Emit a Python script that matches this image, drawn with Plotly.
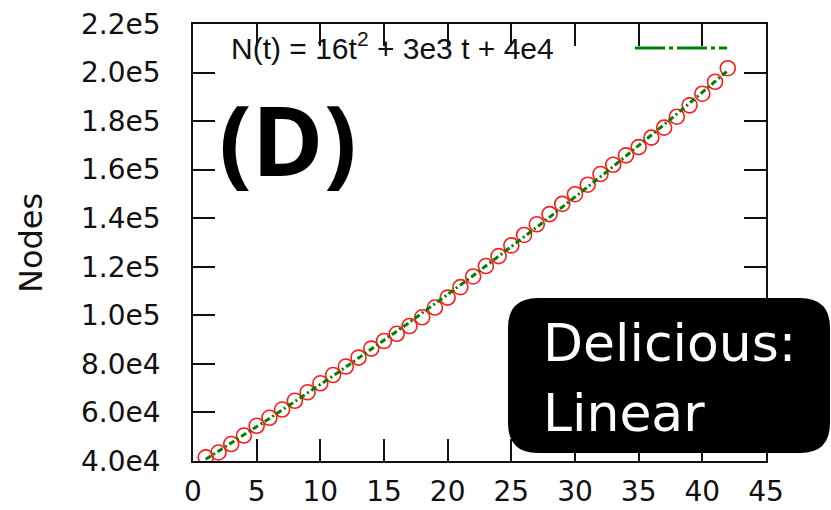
import numpy as np
import plotly.graph_objects as go

# Snapshot index and node counts for the Delicious network
t = list(range(1, 43))
nodes = [41500, 43500, 47000, 50500, 54500, 57800, 61200, 64800, 68300, 72000,
         75400, 78900, 82600, 86300, 89400, 92400, 95600, 99200, 103200, 107300,
         111600, 116000, 120300, 124400, 128800, 133100, 137500, 141700, 145900, 149900,
         153800, 158200, 162000, 165900, 169300, 173200, 177300, 181800, 186500, 191300,
         196200, 201800]

x_ticks = [0, 5, 10, 15, 20, 25, 30, 35, 40, 45]
y_ticks = [40000, 60000, 80000, 100000, 120000, 140000, 160000, 180000, 200000, 220000]
y_tick_text = ["4.0e4", "6.0e4", "8.0e4", "1.0e5", "1.2e5", "1.4e5", "1.6e5", "1.8e5", "2.0e5", "2.2e5"]

fit_label = "N(t) = 16t<sup>2</sup> + 3e3 t + 4e4"
panel_label = "<b>(D)</b>"
box_lines = ["Delicious:", "Linear"]

# quadratic least-squares fit through the measured counts
coef = np.polyfit(t, nodes, 2)
t_fit = np.linspace(t[0], t[-1], 120)
n_fit = np.polyval(coef, t_fit)

W, H = 831, 510
L, R, T, B = 193, 766, 24, 461


def px(x):
    return (x - L) / (R - L)


def py(y):
    return (B - y) / (B - T)


fig = go.Figure()
fig.add_trace(go.Scatter(
    x=t, y=nodes, mode="markers",
    marker=dict(symbol="circle-open", size=15, color="#ff1a1a", line=dict(width=1.6, color="#ff1a1a")),
))
fig.add_trace(go.Scatter(
    x=t_fit, y=n_fit, mode="lines",
    line=dict(color="#008000", width=3, dash="6px,3px,2px,3px"),
))

axis_font = dict(family="DejaVu Sans", size=28, color="#111111")
fig.update_xaxes(
    range=[0, 45], tickvals=x_ticks, ticks="inside", ticklen=22, tickwidth=1.8,
    tickcolor="#111111", showline=True, linecolor="#111111", linewidth=1.8,
    mirror="ticks", showgrid=False, zeroline=False, tickfont=axis_font,
    ticklabelstandoff=4, automargin=False,
)
fig.update_yaxes(
    range=[40000, 220000], tickvals=y_ticks, ticktext=y_tick_text, ticks="inside",
    ticklen=22, tickwidth=1.8, tickcolor="#111111", showline=True,
    linecolor="#111111", linewidth=1.8, mirror="ticks", showgrid=False,
    zeroline=False, tickfont=axis_font, ticklabelstandoff=25, automargin=False,
)

annotations = [
    dict(text="Nodes", textangle=-90, x=px(31), y=py(243), xref="paper", yref="paper",
         showarrow=False, xanchor="center", yanchor="middle",
         font=dict(family="DejaVu Sans", size=32, color="#111111")),
    dict(text=fit_label, x=px(556), y=py(46), xref="paper", yref="paper",
         showarrow=False, xanchor="right", yanchor="middle",
         font=dict(family="Liberation Sans", size=30, color="#111111")),
    dict(text=panel_label, x=px(288), y=py(138), xref="paper", yref="paper",
         showarrow=False, xanchor="center", yanchor="middle",
         font=dict(family="Open Sans", size=97, color="#000000")),
    dict(text=box_lines[0], x=px(541), y=py(343), xref="paper", yref="paper",
         showarrow=False, xanchor="left", yanchor="middle",
         font=dict(family="DejaVu Sans", size=52, color="#ffffff")),
    dict(text=box_lines[1], x=px(541), y=py(413), xref="paper", yref="paper",
         showarrow=False, xanchor="left", yanchor="middle",
         font=dict(family="DejaVu Sans", size=52, color="#ffffff")),
]


def rounded_box(x0, y0, x1, y1, r):
    pts = [
        ("M", px(x0 + r), py(y0)), ("L", px(x1 - r), py(y0)),
        ("Q", px(x1), py(y0), px(x1), py(y0 + r)), ("L", px(x1), py(y1 - r)),
        ("Q", px(x1), py(y1), px(x1 - r), py(y1)), ("L", px(x0 + r), py(y1)),
        ("Q", px(x0), py(y1), px(x0), py(y1 - r)), ("L", px(x0), py(y0 + r)),
        ("Q", px(x0), py(y0), px(x0 + r), py(y0)),
    ]
    parts = []
    for p in pts:
        cmd, vals = p[0], p[1:]
        coords = " ".join(f"{vals[i]:.5f},{vals[i + 1]:.5f}" for i in range(0, len(vals), 2))
        parts.append(f"{cmd} {coords}")
    return " ".join(parts) + " Z"


shapes = [
    # key sample for the fit line
    dict(type="line", xref="paper", yref="paper", x0=px(635), x1=px(727), y0=py(48), y1=py(48),
         line=dict(color="#008000", width=3, dash="30px,4px,4px,4px")),
    dict(type="path", xref="paper", yref="paper", path=rounded_box(508, 298, 830, 453, 30),
         fillcolor="#000000", line=dict(width=0), layer="above"),
]

fig.update_layout(
    width=W, height=H, margin=dict(l=L, r=W - R, t=T, b=H - B),
    plot_bgcolor="white", paper_bgcolor="white", showlegend=False,
    annotations=annotations, shapes=shapes,
)

fig.write_html("out.html", config={"displayModeBar": False})
